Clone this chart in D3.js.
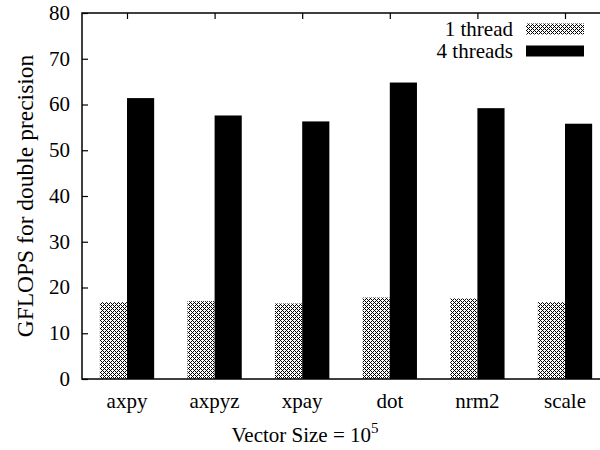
<!DOCTYPE html>
<html>
<head>
<meta charset="utf-8">
<script src="https://cdn.jsdelivr.net/npm/d3@7"></script>
<style>
  body { margin: 0; background: #fff; }
  svg text { font-family: 'Liberation Serif', 'DejaVu Serif', serif !important; }
</style>
</head>
<body>
<script>
// data
const categories = ["axpy", "axpyz", "xpay", "dot", "nrm2", "scale"];
const oneThread = [16.8, 17.0, 16.5, 17.8, 17.6, 16.8];
const fourThreads = [61.4, 57.6, 56.3, 64.8, 59.2, 55.8];
const seriesNames = ["1 thread", "4 threads"];
const yTicks = [0, 10, 20, 30, 40, 50, 60, 70, 80];

const width = 600, height = 450;
const marginLeft = 82, marginTop = 13, plotBottom = 379, plotRight = 610;
const font = "'Liberation Serif', 'DejaVu Serif', serif";
const fs = 21;

const svg = d3.select("body").append("svg")
  .attr("width", width)
  .attr("height", height)
  .attr("viewBox", [0, 0, width, height])
  .attr("font-family", font);

// hatch pattern for the 1 thread bars
const defs = svg.append("defs");
const pat = defs.append("pattern")
  .attr("id", "hatch")
  .attr("patternUnits", "userSpaceOnUse")
  .attr("width", 8).attr("height", 8);
pat.append("rect").attr("width", 8).attr("height", 8).attr("fill", "#fff");
const dots = [];
for (let i = 0; i < 8; i++) {
  for (let j = 0; j < 8; j++) {
    if (((i + j) % 8 === 0 || (i - j + 8) % 8 === 0 || (i + j) % 8 === 4 || (i - j + 8) % 8 === 4) && (i + j) % 2 === 0) {
      dots.push([i, j]);
    }
  }
}
pat.selectAll("rect.d").data(dots).enter().append("rect")
  .attr("class", "d")
  .attr("x", d => d[0]).attr("y", d => d[1])
  .attr("width", 1).attr("height", 1)
  .attr("fill", "#000");

const x = d3.scaleLinear()
  .domain([-0.5137, 5.5137])
  .range([marginLeft, plotRight]);

const y = d3.scaleLinear()
  .domain([0, 80])
  .range([plotBottom, marginTop]);

const bw = 0.31;

// bars
svg.append("g").selectAll("rect")
  .data(oneThread)
  .enter().append("rect")
  .attr("x", (d, i) => x(i - bw))
  .attr("y", d => y(d))
  .attr("width", x(bw) - x(0))
  .attr("height", d => y(0) - y(d))
  .attr("fill", "url(#hatch)");

svg.append("g").selectAll("rect")
  .data(fourThreads)
  .enter().append("rect")
  .attr("x", (d, i) => x(i))
  .attr("y", d => y(d))
  .attr("width", x(bw) - x(0))
  .attr("height", d => y(0) - y(d))
  .attr("fill", "#000");

// frame
svg.append("rect")
  .attr("x", marginLeft).attr("y", marginTop)
  .attr("width", plotRight - marginLeft)
  .attr("height", plotBottom - marginTop)
  .attr("fill", "none")
  .attr("stroke", "#000")
  .attr("stroke-width", 1.5);

// y axis (ticks inward)
svg.append("g")
  .attr("transform", `translate(${marginLeft},0)`)
  .call(d3.axisRight(y).tickValues(yTicks).tickSize(6).tickFormat(""))
  .call(g => g.select(".domain").remove())
  .call(g => g.selectAll(".tick line").attr("stroke-width", 1.2));

svg.append("g").selectAll("text")
  .data(yTicks)
  .enter().append("text")
  .attr("x", marginLeft - 12)
  .attr("y", d => y(d))
  .attr("dy", "0.33em")
  .attr("text-anchor", "end")
  .attr("font-size", fs)
  .text(d => d);

// x ticks mirrored at top
svg.append("g")
  .attr("transform", `translate(0,${marginTop})`)
  .call(d3.axisBottom(x).tickValues(d3.range(categories.length)).tickSize(6).tickFormat(""))
  .call(g => g.select(".domain").remove())
  .call(g => g.selectAll(".tick line").attr("stroke-width", 1.2));

// x labels
svg.append("g").selectAll("text")
  .data(categories)
  .enter().append("text")
  .attr("x", (d, i) => x(i))
  .attr("y", 408)
  .attr("text-anchor", "middle")
  .attr("font-size", fs)
  .text(d => d);

// axis titles
const xt = svg.append("text")
  .attr("x", 305)
  .attr("y", 442)
  .attr("text-anchor", "middle")
  .attr("font-size", fs);
xt.append("tspan").text("Vector Size = 10");
xt.append("tspan").attr("dy", -9).attr("font-size", 15).text("5");

svg.append("text")
  .attr("transform", `translate(33,${(marginTop + plotBottom) / 2}) rotate(-90)`)
  .attr("text-anchor", "middle")
  .attr("font-size", 23.5)
  .text("GFLOPS for double precision");

// legend
const legend = svg.append("g");
const fills = ["url(#hatch)", "#000"];
seriesNames.forEach((name, i) => {
  const cy = 29 + i * 22;
  legend.append("text")
    .attr("x", 513)
    .attr("y", cy)
    .attr("dy", "0.33em")
    .attr("text-anchor", "end")
    .attr("font-size", fs)
    .text(name);
  legend.append("rect")
    .attr("x", 526).attr("y", cy - 5.5)
    .attr("width", 58).attr("height", 11)
    .attr("fill", fills[i]);
});
</script>
</body>
</html>
